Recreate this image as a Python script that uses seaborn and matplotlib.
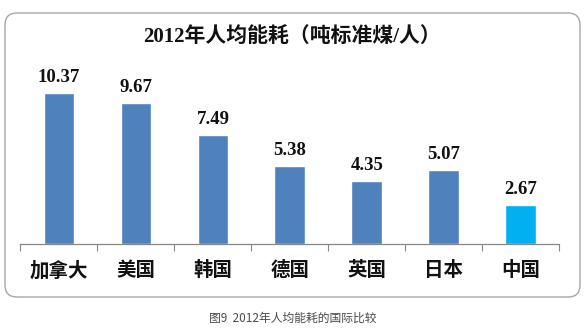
import matplotlib
matplotlib.use("Agg")
import matplotlib.pyplot as plt
from matplotlib.patches import FancyBboxPatch
import seaborn as sns
import pandas as pd
import numpy as np

# 2012 per-capita energy consumption (tonnes of standard coal per person)
countries = ["加拿大", "美国", "韩国", "德国", "英国", "日本", "中国"]
consumption = [10.37, 9.67, 7.49, 5.38, 4.35, 5.07, 2.67]

BLUE = "#4F81BD"
CYAN = "#00B0F0"
bar_colors = [BLUE] * (len(countries) - 1) + [CYAN]

df = pd.DataFrame({"country": countries, "value": consumption})

sns.set_theme(style="white")
plt.rcParams["font.family"] = ["Noto Sans CJK SC", "DejaVu Sans"]

fig = plt.figure(figsize=(5.85, 3.28), dpi=100)
fig.patch.set_facecolor("white")

# rounded frame around the chart, kept behind the axes
frame = FancyBboxPatch((0.05, 0.31), 5.75, 2.84,
                       boxstyle="round,pad=0,rounding_size=0.12",
                       transform=fig.dpi_scale_trans,
                       facecolor="white", edgecolor="#A6A6A6", linewidth=1.0,
                       zorder=-10)
fig.add_artist(frame)

ax = fig.add_axes([0.035, 0.256, 0.921, 0.534])
ax.set_zorder(5)
ax.set_facecolor("none")

sns.barplot(data=df, x="country", y="value", hue="country",
            palette=bar_colors, legend=False, width=0.40, ax=ax,
            saturation=1)

ax.set_ylim(0, 12)
ax.set_xlim(-0.5, len(countries) - 0.5)
ax.set_xlabel("")
ax.set_ylabel("")
ax.set_yticks([])

for side in ["top", "right", "left"]:
    ax.spines[side].set_visible(False)
ax.spines["bottom"].set_color("#868686")
ax.spines["bottom"].set_linewidth(0.9)

# tick marks between categories, labels centred under bars
ax.set_xticks(np.arange(-0.5, len(countries)), minor=True)
ax.tick_params(axis="x", which="minor", length=5, width=0.8,
               color="#868686", direction="out", bottom=True)
ax.tick_params(axis="x", which="major", length=0, pad=12)
for lbl in ax.get_xticklabels():
    lbl.set_fontsize(14)
    lbl.set_fontweight("bold")
    lbl.set_color("#111111")
    lbl.set_family(["Noto Sans CJK SC", "DejaVu Sans"])

for container in ax.containers:
    ax.bar_label(container, fmt="%.2f", padding=5, fontsize=13.5,
                 fontweight="bold", color="#111111",
                 family=["Liberation Serif", "DejaVu Serif"])

fig.text(0.499, 0.883, "2012年人均能耗（吨标准煤/人）", ha="center", va="center",
         fontsize=15, fontweight="bold", color="#111111",
         family=["Liberation Serif", "Noto Sans CJK SC"])

fig.text(0.5, 0.030, "图9  2012年人均能耗的国际比较", ha="center", va="center",
         fontsize=8.5, color="#4A4A4A",
         family=["Noto Sans CJK SC", "DejaVu Sans"])

fig.savefig("out.png", dpi=100)
